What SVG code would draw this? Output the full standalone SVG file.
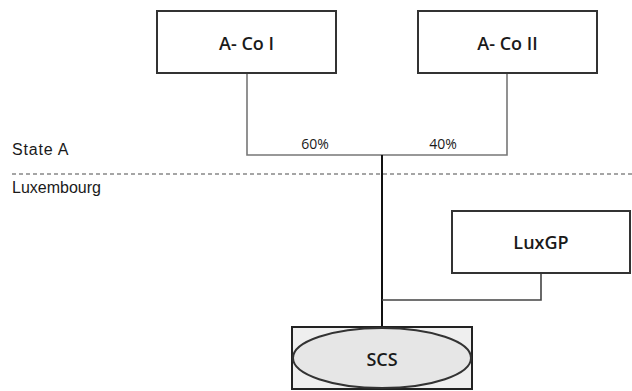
<svg xmlns="http://www.w3.org/2000/svg" width="632" height="391" viewBox="0 0 632 391">
<style>
.box{fill:#fff;stroke:#333;stroke-width:2}
.lbl{font-family:"Open Sans","Noto Sans",sans-serif;font-size:18px;font-weight:600;fill:#1a1a1a;text-anchor:middle}
.pct{font-family:"Open Sans","Noto Sans",sans-serif;font-size:14px;fill:#1a1a1a;text-anchor:middle}
.side{font-family:"Liberation Sans",Arial,sans-serif;font-size:16px;fill:#1a1a1a}
.con{fill:none;stroke:#777;stroke-width:1.6}
</style>
<rect width="632" height="391" fill="#fff"/>
<line x1="12" y1="174" x2="632" y2="174" stroke="#888" stroke-width="1.5" stroke-dasharray="4 3"/>
<text class="side" x="12" y="155" letter-spacing="0.8">State A</text>
<text class="side" x="12" y="193">Luxembourg</text>
<g id="connectors">
<polyline class="con" points="247,73 247,155 507,155 507,73"/>
<line x1="382" y1="155" x2="382" y2="327" stroke="#111" stroke-width="2"/>
<polyline points="382,300 541,300 541,273" fill="none" stroke="#444" stroke-width="1.6"/>
<text class="pct" x="315" y="149">60%</text>
<text class="pct" x="443" y="149">40%</text>
</g>
<g id="aco1">
<rect class="box" x="157" y="11" width="179" height="62"/>
<text class="lbl" x="246.5" y="50">A- Co I</text>
</g>
<g id="aco2">
<rect class="box" x="418" y="11" width="179" height="62"/>
<text class="lbl" x="507.5" y="50">A- Co II</text>
</g>
<g id="luxgp">
<rect class="box" x="452" y="211" width="178" height="62"/>
<text class="lbl" x="541" y="249">LuxGP</text>
</g>
<g id="scs">
<rect x="292" y="327" width="180" height="62" fill="#efefef" stroke="#222" stroke-width="2"/>
<ellipse cx="382" cy="358" rx="89" ry="30" fill="#e6e6e6" stroke="#333" stroke-width="2"/>
<text class="lbl" x="382" y="366">SCS</text>
</g>
</svg>
